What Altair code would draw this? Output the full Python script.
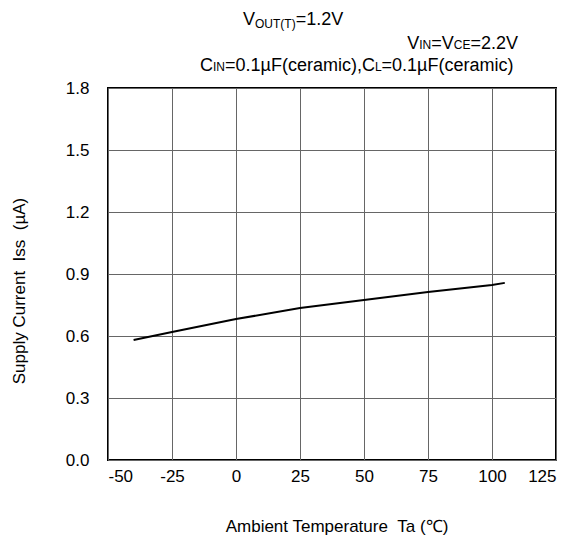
import altair as alt
import pandas as pd

# data
temps = [-40, -25, 0, 25, 50, 75, 100, 105]
iss = [0.581, 0.619, 0.682, 0.735, 0.774, 0.813, 0.847, 0.857]
x_ticks = [-50, -25, 0, 25, 50, 75, 100, 125]
y_ticks = [0.0, 0.3, 0.6, 0.9, 1.2, 1.5, 1.8]

# header lines: list of (text, is_subscript)
header_lines = [
    [("V", False), ("OUT(T)", True), ("=1.2V", False)],
    [("V", False), ("IN", True), ("=V", False), ("CE", True), ("=2.2V", False)],
    [("C", False), ("IN", True), ("=0.1\u00b5F(ceramic),C", False), ("L", True),
     ("=0.1\u00b5F(ceramic)", False)],
]
# anchor of each line (plot coords): (x, anchor side, baseline y)
header_anchor = [(135, "left", -63), (410, "right", -39), (92, "left", -17)]

FONT = "Liberation Sans"
W, H = 448, 372
S_MAIN, S_SUB = 18, 12

# Arial / Liberation Sans advance widths (em) for text layout
AW = {"V": .667, "O": .778, "U": .722, "T": .611, "(": .333, ")": .333,
      "=": .584, "1": .556, ".": .278, "2": .556, "I": .278, "N": .722,
      "C": .722, "E": .667, "L": .556, "0": .556, "\u00b5": .576, "F": .611,
      "c": .5, "e": .556, "r": .333, "a": .556, "m": .833, "i": .222, ",": .278}


def text_w(s, size):
    return sum(AW.get(ch, .556) for ch in s) * size


df = pd.DataFrame({"t": temps, "i": iss})

label_expr = "datum.value < 0 ? '-' + abs(datum.value) : '' + datum.label"

line = alt.Chart(df).mark_line(color="black", strokeWidth=2).encode(
    x=alt.X("t:Q", scale=alt.Scale(domain=[-50, 125], nice=False),
            axis=alt.Axis(values=x_ticks, title=None, grid=True, domain=False,
                          ticks=False, labelPadding=8, labelFontSize=17,
                          labelFont=FONT, labelColor="black", labelExpr=label_expr,
                          gridColor="#666666", gridWidth=1)),
    y=alt.Y("i:Q", scale=alt.Scale(domain=[0, 1.8], nice=False),
            axis=alt.Axis(values=y_ticks, format=".1f", title=None, grid=True,
                          domain=False, ticks=False, labelPadding=19,
                          labelFontSize=17, labelFont=FONT, labelColor="black",
                          gridColor="#666666", gridWidth=1)),
)

layers = [line]
for segs, (ax, side, by) in zip(header_lines, header_anchor):
    total = sum(text_w(t, S_SUB if sub else S_MAIN) for t, sub in segs)
    cx = ax if side == "left" else ax - total
    for t, sub in segs:
        size = S_SUB if sub else S_MAIN
        yy = by + (3 if (sub and t == "OUT(T)") else 0)
        layers.append(
            alt.Chart(pd.DataFrame({"s": [t]})).mark_text(
                align="left", baseline="alphabetic", font=FONT, fontSize=size,
                color="black").encode(x=alt.value(cx), y=alt.value(yy), text="s:N")
        )
        cx += text_w(t, size)

layers.append(
    alt.Chart(pd.DataFrame({"s": ["Ambient Temperature\u00a0\u00a0Ta (\u2103)"]})).mark_text(
        align="center", baseline="middle", font=FONT, fontSize=17, color="black"
    ).encode(x=alt.value(229), y=alt.value(439), text="s:N")
)
layers.append(
    alt.Chart(pd.DataFrame({"s": ["Supply Current\u00a0\u00a0Iss\u00a0\u00a0(\u00b5A)"]})).mark_text(
        align="center", baseline="middle", font=FONT, fontSize=17, color="black",
        angle=270
    ).encode(x=alt.value(-88), y=alt.value(203), text="s:N")
)

chart = alt.layer(*layers).properties(
    width=W, height=H,
    autosize=alt.AutoSizeParams(type="none"),
    padding={"left": 100, "top": 80, "right": 12, "bottom": 81},
    background="white",
).configure_view(stroke="black", strokeWidth=2)

chart.save("out.html", embed_options={"renderer": "svg", "actions": False})
